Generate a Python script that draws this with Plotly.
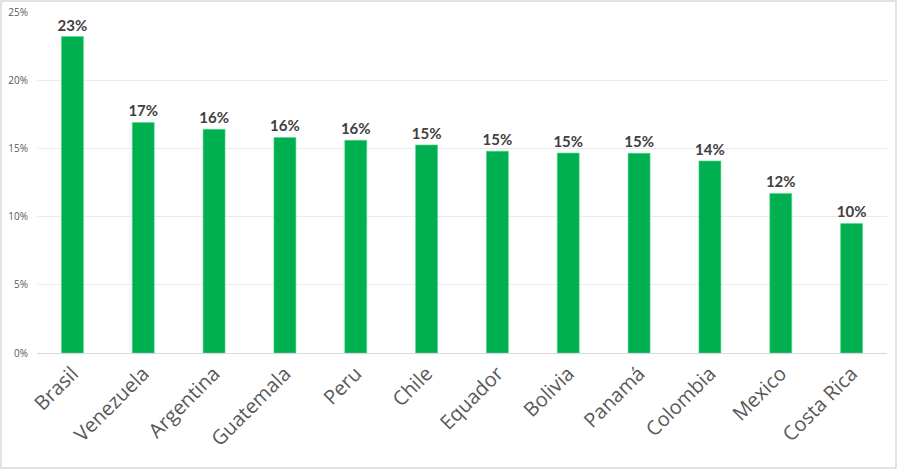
import plotly.graph_objects as go

# Data
paises = ['Brasil', 'Venezuela', 'Argentina', 'Guatemala', 'Peru', 'Chile',
          'Equador', 'Bolivia', 'Panamá', 'Colombia', 'Mexico', 'Costa Rica']
valores = [0.232, 0.169, 0.164, 0.158, 0.156, 0.1525,
           0.148, 0.1466, 0.1464, 0.1408, 0.117, 0.095]
etiquetas = ['23%', '17%', '16%', '16%', '16%', '15%',
             '15%', '15%', '15%', '14%', '12%', '10%']
y_ticks = [0, 0.05, 0.10, 0.15, 0.20, 0.25]
y_labels = ['0%', '5%', '10%', '15%', '20%', '25%']

W, H = 898, 471
ml, mr, mt, mb = 37, 11, 12, 118
pw, ph = W - ml - mr, H - mt - mb

fig = go.Figure()
fig.add_trace(go.Bar(
    x=paises, y=valores,
    text=etiquetas, textposition='outside', cliponaxis=False,
    constraintext='none',
    textfont=dict(family='Lato', size=15, color='#404040', weight='bold'),
    marker=dict(color='#00B050', line=dict(color='#4FD98A', width=0.6)),
    hoverinfo='skip',
))

# outer chart border
fig.add_shape(type='rect', xref='paper', yref='paper',
              x0=(1 - ml) / pw, x1=(896 - ml) / pw,
              y0=(mt + ph - 468) / ph, y1=(mt + ph - 1) / ph,
              line=dict(color='#D9D9D9', width=1.5), fillcolor='rgba(0,0,0,0)',
              layer='below')

fig.update_layout(
    width=W, height=H,
    margin=dict(l=ml, r=mr, t=mt, b=mb, pad=0, autoexpand=False),
    paper_bgcolor='white', plot_bgcolor='white',
    bargap=0.69, showlegend=False,
    xaxis=dict(tickangle=-45, tickfont=dict(family='Open Sans', size=20, color='#595959'),
               showline=True, linecolor='#D9D9D9', ticks='', showgrid=False,
               automargin=False),
    yaxis=dict(range=[0, 0.25], tickvals=y_ticks, ticktext=y_labels,
               tickfont=dict(family='Open Sans', size=10, color='#595959'),
               showgrid=True, gridcolor='#EBEBEB', gridwidth=1,
               zeroline=False, showline=False, ticks='', ticklabelstandoff=8,
               automargin=False),
)

# drop the default page margin so the figure fills the window
fig.write_html('out.html', config={'displayModeBar': False},
               post_script="document.body.style.margin='0';")
